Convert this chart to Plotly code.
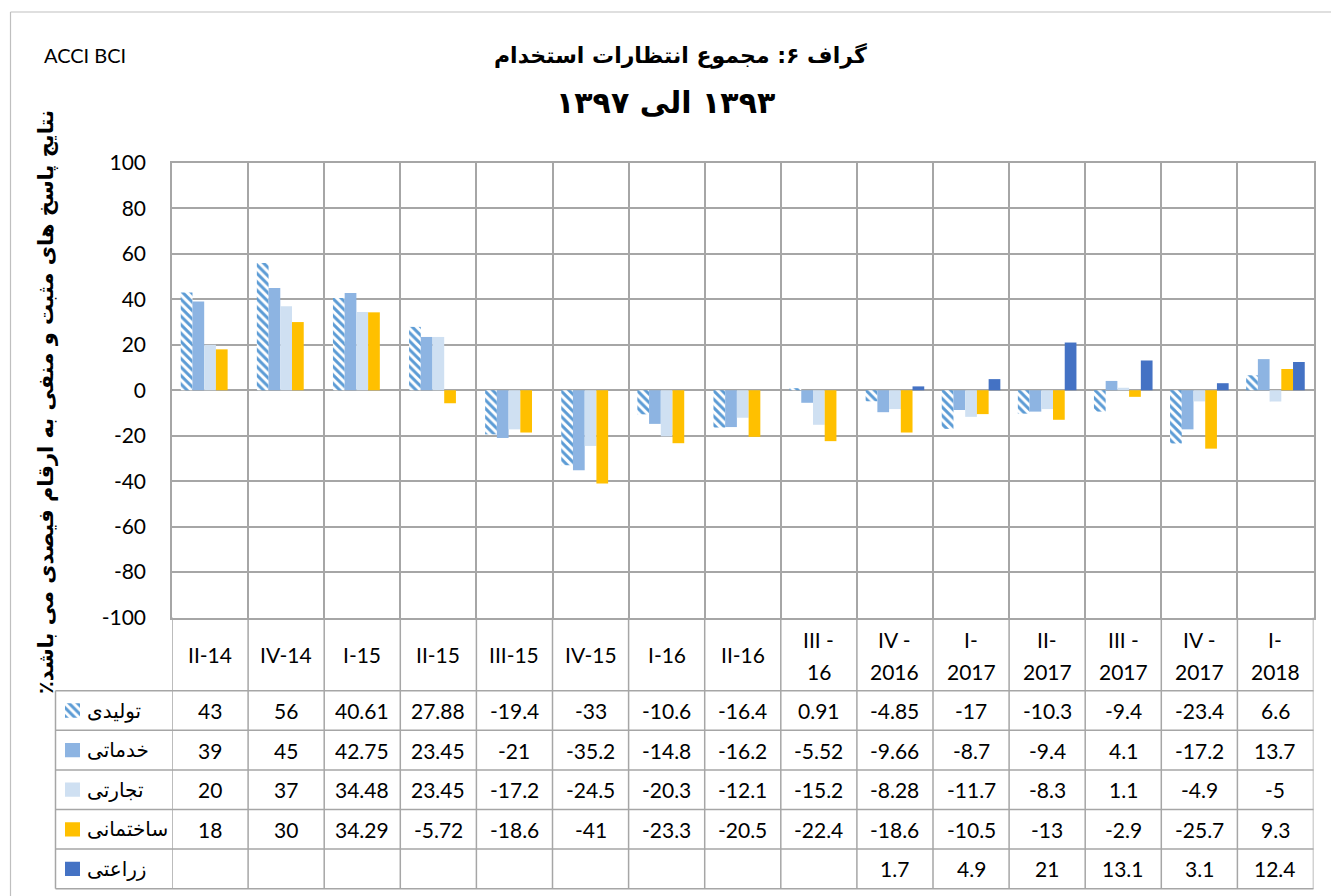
import plotly.graph_objects as go

# ---------------- data ----------------
categories = ["II-14", "IV-14", "I-15", "II-15", "III-15", "IV-15", "I-16", "II-16",
              "III -\n16", "IV -\n2016", "I-\n2017", "II-\n2017", "III -\n2017",
              "IV -\n2017", "I-\n2018"]
series_names = ["تولیدی", "خدماتی", "تجارتی", "ساختمانی", "زراعتی"]
tolidi = [43, 56, 40.61, 27.88, -19.4, -33, -10.6, -16.4, 0.91, -4.85, -17, -10.3, -9.4, -23.4, 6.6]
khadamati = [39, 45, 42.75, 23.45, -21, -35.2, -14.8, -16.2, -5.52, -9.66, -8.7, -9.4, 4.1, -17.2, 13.7]
tejarati = [20, 37, 34.48, 23.45, -17.2, -24.5, -20.3, -12.1, -15.2, -8.28, -11.7, -8.3, 1.1, -4.9, -5]
sakhtemani = [18, 30, 34.29, -5.72, -18.6, -41, -23.3, -20.5, -22.4, -18.6, -10.5, -13, -2.9, -25.7, 9.3]
zerati = [None, None, None, None, None, None, None, None, None, 1.7, 4.9, 21, 13.1, 3.1, 12.4]
y_ticks = [-100, -80, -60, -40, -20, 0, 20, 40, 60, 80, 100]
title_line1 = "گراف ۶: مجموع انتظارات استخدام"
title_line2 = "۱۳۹۳ الی ۱۳۹۷"
y_title = "نتایج پاسخ های مثبت و منفی به ارقام فیصدی می باشد٪"
corner_label = "ACCI BCI"

all_series = [tolidi, khadamati, tejarati, sakhtemani, zerati]

# ---------------- styling ----------------
W, H = 1331, 896
def px(x):
    return x / W
def py(y):
    return 1 - y / H

def rtl(s):
    return "\u202B" + s + "\u202C"

GRID = "#A6A6A6"
colors = ["#5B9BD5", "#8DB4E2", "#CFE0F2", "#FFC000", "#4472C4"]
patterns = [dict(shape="\\", fgcolor="#5B9BD5", bgcolor="white", size=6, solidity=0.5, fillmode="replace"),
            None, None, None, None]

PLOT_L, PLOT_R, PLOT_T, PLOT_B = 172, 1313.5, 163, 617.5
TABLE_L = 55.5
row_lines = [690.7, 730.3, 769.9, 809.5, 849.1, 888.7]
row_centers = [(row_lines[i] + row_lines[i + 1]) / 2 for i in range(5)]

x_idx = list(range(len(categories)))
boundaries = [i - 0.5 for i in range(len(categories) + 1)]

fig = go.Figure()

for k, (name, vals) in enumerate(zip(series_names, all_series)):
    m = dict(color=colors[k], line=dict(width=0))
    if patterns[k]:
        m = dict(color="white", pattern=patterns[k], line=dict(width=0))
    fig.add_trace(go.Bar(x=x_idx, y=vals, name=name, marker=m, showlegend=False,
                         hoverinfo="y"))
    # legend swatch inside the data table
    fig.add_trace(go.Bar(x=[1], y=[k], base=0, orientation="h", width=0.36,
                         marker=m, xaxis="x2", yaxis="y2", showlegend=False,
                         hoverinfo="skip"))

shapes = []
for b in boundaries:
    shapes.append(dict(type="line", xref="x", yref="paper", x0=b, x1=b,
                       y0=py(row_lines[-1]), y1=py(PLOT_B),
                       line=dict(color=GRID, width=1.5)))
shapes.append(dict(type="line", xref="paper", yref="paper", x0=px(TABLE_L), x1=px(TABLE_L),
                   y0=py(row_lines[-1]), y1=py(row_lines[0]), line=dict(color=GRID, width=1.5)))
for yl in row_lines:
    shapes.append(dict(type="line", xref="paper", yref="paper", x0=px(TABLE_L), x1=px(PLOT_R),
                       y0=py(yl), y1=py(yl), line=dict(color=GRID, width=1.5)))
shapes.append(dict(type="line", xref="paper", yref="paper", x0=px(10.5), x1=1.0,
                   y0=py(12), y1=py(12), line=dict(color="#BFBFBF", width=1.2)))
shapes.append(dict(type="line", xref="paper", yref="paper", x0=px(10.5), x1=px(10.5),
                   y0=0, y1=py(12), line=dict(color="#BFBFBF", width=1.2)))

ann = []
NUMFONT = dict(family="Lato, Open Sans, sans-serif", size=21, color="black")
for i, c in enumerate(categories):
    parts = c.split("\n")
    if len(parts) == 1:
        ann.append(dict(x=i, xref="x", y=py(654), yref="paper", text=parts[0],
                        showarrow=False, font=NUMFONT, xanchor="center", yanchor="middle"))
    else:
        for j, p in enumerate(parts):
            ann.append(dict(x=i, xref="x", y=py(639 + 32 * j), yref="paper", text=p,
                            showarrow=False, font=NUMFONT, xanchor="center", yanchor="middle"))
for r, vals in enumerate(all_series):
    for i, v in enumerate(vals):
        if v is None:
            continue
        ann.append(dict(x=i, xref="x", y=py(row_centers[r]), yref="paper", text=f"{v:g}",
                        showarrow=False, font=NUMFONT, xanchor="center", yanchor="middle"))
for r, name in enumerate(series_names):
    ann.append(dict(x=px(85), xref="paper", y=py(row_centers[r]), yref="paper", text=rtl(name),
                    showarrow=False, font=dict(family="DejaVu Sans", size=20, color="black"),
                    xanchor="left", yanchor="middle"))
ann.append(dict(x=px(680), y=py(55), xref="paper", yref="paper", text="<b>" + rtl(title_line1) + "</b>",
                showarrow=False, xanchor="center", yanchor="middle",
                font=dict(family="DejaVu Sans", size=22, color="black")))
ann.append(dict(x=px(665), y=py(103), xref="paper", yref="paper", text="<b>" + rtl(title_line2) + "</b>",
                showarrow=False, xanchor="center", yanchor="middle",
                font=dict(family="DejaVu Sans", size=30, color="black")))
ann.append(dict(x=px(42), y=py(55), xref="paper", yref="paper", text=corner_label,
                xanchor="left", yanchor="middle",
                showarrow=False, font=dict(family="Lato, sans-serif", size=20, color="black")))
ann.append(dict(x=px(46), y=py(402), xref="paper", yref="paper", text="<b>" + rtl(y_title) + "</b>",
                textangle=-90, showarrow=False, xanchor="center", yanchor="middle",
                font=dict(family="DejaVu Sans", size=21, color="black")))

fig.update_layout(
    width=W, height=H,
    margin=dict(l=0, r=0, t=0, b=0, autoexpand=False),
    paper_bgcolor="white", plot_bgcolor="white",
    barmode="group", bargap=0.23, bargroupgap=0,
    shapes=shapes, annotations=ann,
    xaxis=dict(domain=[px(PLOT_L), px(PLOT_R)], range=[-0.5, len(categories) - 0.5],
               tickvals=boundaries, showticklabels=False, ticks="", automargin=False,
               showgrid=True, gridcolor=GRID, gridwidth=1.5, zeroline=False,
               showline=True, mirror=True, linecolor=GRID, linewidth=1.5),
    yaxis=dict(domain=[py(PLOT_B), py(PLOT_T)], range=[-100, 100], automargin=False,
               tickvals=y_ticks, ticktext=[str(v) for v in y_ticks], ticks="",
               ticklabelstandoff=20,
               tickfont=dict(family="Lato, Open Sans, sans-serif", size=21, color="black"),
               showgrid=True, gridcolor=GRID, gridwidth=1.5,
               zeroline=True, zerolinecolor=GRID, zerolinewidth=1.5,
               showline=True, mirror=True, linecolor=GRID, linewidth=1.5),
    xaxis2=dict(domain=[px(65), px(80)], range=[0, 1], visible=False, anchor="y2",
                fixedrange=True),
    yaxis2=dict(domain=[py(row_lines[-1]), py(row_lines[0])], range=[4.5, -0.5],
                visible=False, anchor="x2", fixedrange=True),
)

fig.write_html("out.html", config={"displayModeBar": False},
               post_script="document.body.style.margin='0';document.body.style.overflow='hidden';")
